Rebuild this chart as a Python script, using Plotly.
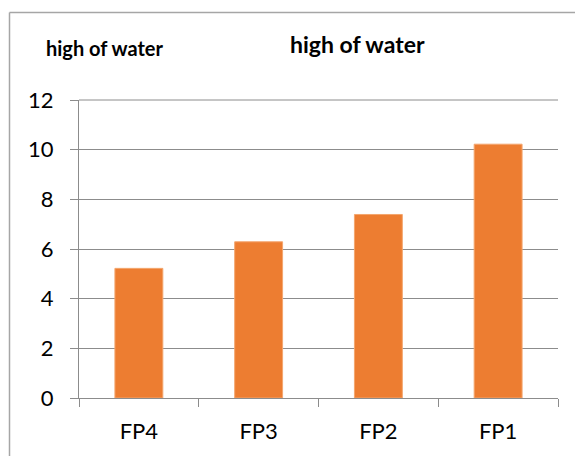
import plotly.graph_objects as go

categories = ["FP4", "FP3", "FP2", "FP1"]
values = [5.22, 6.29, 7.39, 10.22]
y_ticks = [0, 2, 4, 6, 8, 10, 12]

W, H = 583, 456
OFF = 8  # page body margin
# reference-pixel geometry of the plot area
PL, PR, PT, PB = 79, 558, 100, 398
L, T = PL - OFF, PT - OFF
R, B = W - (PR - OFF), H - (PB - OFF)
pw, ph = PR - PL, PB - PT

def px_x(x):
    return (x - PL) / pw

def px_y(y):
    return 1 - (y - PT) / ph

font = "Lato, Calibri, sans-serif"

fig = go.Figure(go.Bar(
    x=categories, y=values,
    marker=dict(color="#ED7D31", line=dict(color="#F4A66E", width=1)),
    width=0.4,
))

fig.update_layout(
    width=W, height=H,
    margin=dict(l=L, r=R, t=T, b=B),
    paper_bgcolor="white", plot_bgcolor="white",
    showlegend=False,
    font=dict(family=font, color="black", size=22),
    xaxis=dict(
        showline=True, linecolor="#8c8c8c", linewidth=1,
        ticks="outside", ticklen=8, tickcolor="#8c8c8c",
        tickson="boundaries", showgrid=False,
        tickfont=dict(size=22),
        range=[-0.5, 3.5],
        ticklabelstandoff=14,
    ),
    yaxis=dict(
        range=[0, 12], tickvals=y_ticks,
        showline=True, linecolor="#8c8c8c", linewidth=1,
        ticks="outside", ticklen=8, tickcolor="#8c8c8c",
        showgrid=True, gridcolor="#8c8c8c", gridwidth=1,
        zeroline=False,
        tickfont=dict(size=22),
        ticklabelstandoff=12,
    ),
    shapes=[
        dict(type="line", xref="paper", yref="paper",
             x0=px_x(9.5), x1=px_x(600), y0=px_y(12.5), y1=px_y(12.5),
             line=dict(color="#a6a6a6", width=1.5)),
        dict(type="line", xref="paper", yref="paper",
             x0=px_x(9.5), x1=px_x(9.5), y0=px_y(12.5), y1=px_y(480),
             line=dict(color="#a6a6a6", width=1.5)),
        dict(type="line", xref="paper", yref="paper",
             x0=px_x(PL), x1=px_x(PR), y0=1, y1=1,
             line=dict(color="#8c8c8c", width=1)),
    ],
    annotations=[
        dict(text="<b>high of water</b>", xref="paper", yref="paper",
             x=px_x(357), y=px_y(44), showarrow=False,
             xanchor="center", yanchor="middle",
             font=dict(size=23, family=font)),
        dict(text="<b>high of water</b>", xref="paper", yref="paper",
             x=px_x(105), y=px_y(48), showarrow=False,
             xanchor="center", yanchor="middle",
             font=dict(size=20, family=font)),
    ],
)

fig.write_html("out.html")
